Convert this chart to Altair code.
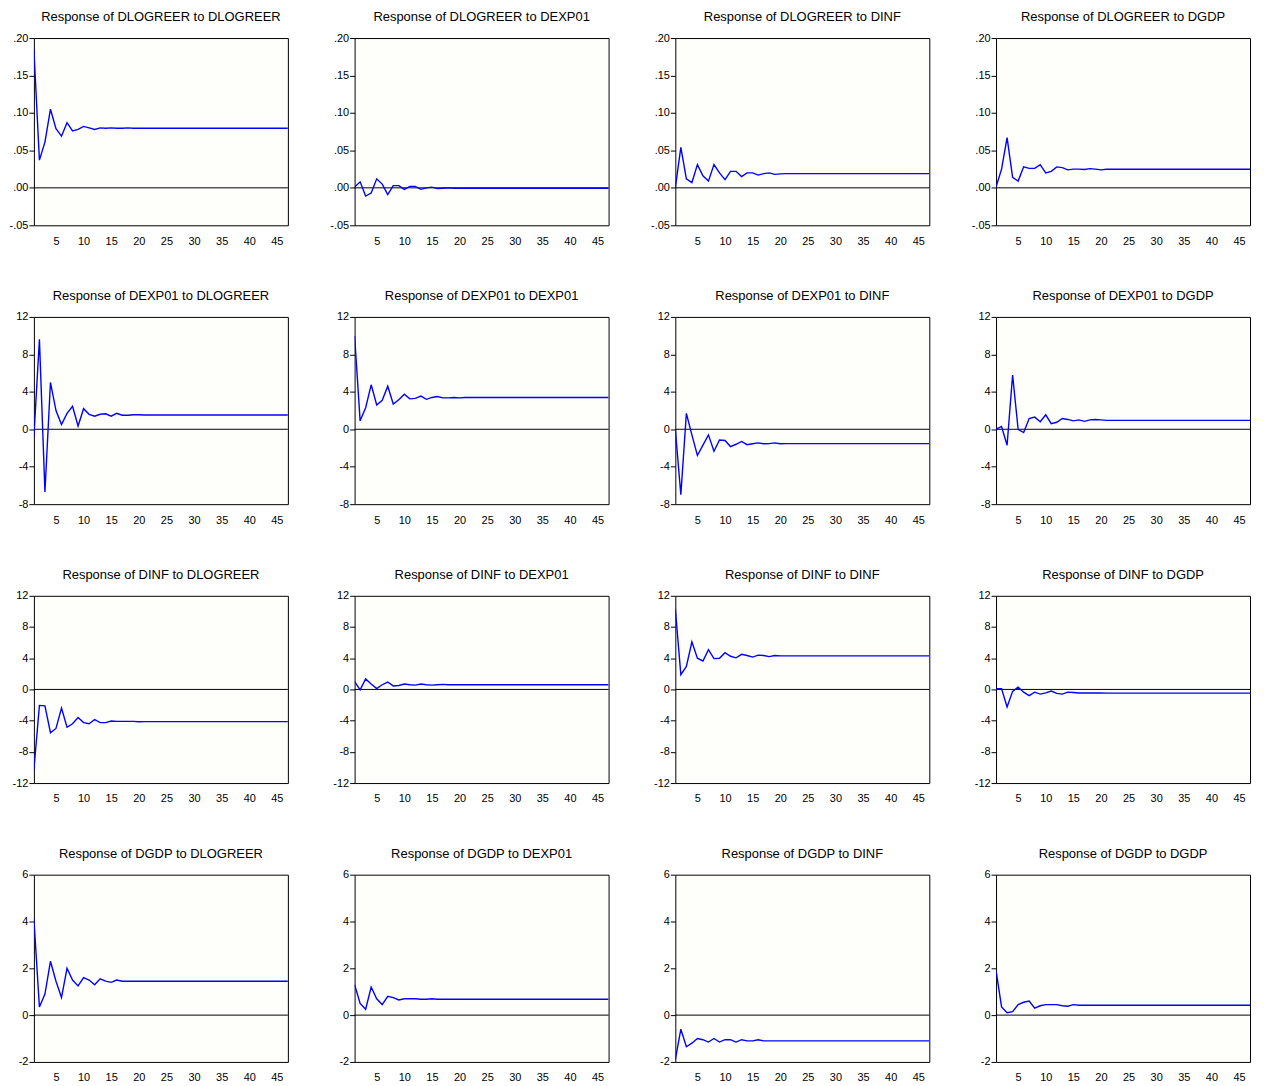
import altair as alt
import pandas as pd

periods = list(range(1, 48))
variables = ["DLOGREER", "DEXP01", "DINF", "DGDP"]

# Responses of DLOGREER
dlogreer_to_dlogreer = [0.1845, 0.037, 0.061, 0.105, 0.079, 0.069, 0.087, 0.076, 0.078, 0.082, 0.080, 0.078,
                        0.080, 0.0795, 0.080, 0.0795, 0.0795, 0.080, 0.0795, 0.0795, 0.0795, 0.0795, 0.0795, 0.0795,
                        0.0795, 0.0795, 0.0795, 0.0795, 0.0795, 0.0795, 0.0795, 0.0795, 0.0795, 0.0795, 0.0795, 0.0795,
                        0.0795, 0.0795, 0.0795, 0.0795, 0.0795, 0.0795, 0.0795, 0.0795, 0.0795, 0.0795, 0.0795]
dlogreer_to_dexp01 = [0.001, 0.008, -0.011, -0.007, 0.012, 0.005, -0.009, 0.003, 0.003, -0.002, 0.002, 0.002,
                      -0.002, 0.000, 0.001, -0.001, -0.0005, 0.000, -0.0005, -0.0005, -0.0005, -0.0005, -0.0005, -0.0005,
                      -0.0005, -0.0005, -0.0005, -0.0005, -0.0005, -0.0005, -0.0005, -0.0005, -0.0005, -0.0005, -0.0005, -0.0005,
                      -0.0005, -0.0005, -0.0005, -0.0005, -0.0005, -0.0005, -0.0005, -0.0005, -0.0005, -0.0005, -0.0005]
dlogreer_to_dinf = [0.000, 0.054, 0.012, 0.007, 0.031, 0.016, 0.009, 0.031, 0.020, 0.011, 0.022, 0.022,
                    0.015, 0.020, 0.020, 0.017, 0.019, 0.020, 0.018, 0.0186, 0.019, 0.019, 0.019, 0.019,
                    0.019, 0.019, 0.019, 0.019, 0.019, 0.019, 0.019, 0.019, 0.019, 0.019, 0.019, 0.019,
                    0.019, 0.019, 0.019, 0.019, 0.019, 0.019, 0.019, 0.019, 0.019, 0.019, 0.019]
dlogreer_to_dgdp = [0.001, 0.025, 0.067, 0.014, 0.009, 0.028, 0.026, 0.026, 0.031, 0.020, 0.022, 0.028,
                    0.027, 0.024, 0.025, 0.025, 0.0245, 0.0257, 0.025, 0.024, 0.0248, 0.0248, 0.0248, 0.0248,
                    0.0248, 0.0248, 0.0248, 0.0248, 0.0248, 0.0248, 0.0248, 0.0248, 0.0248, 0.0248, 0.0248, 0.0248,
                    0.0248, 0.0248, 0.0248, 0.0248, 0.0248, 0.0248, 0.0248, 0.0248, 0.0248, 0.0248, 0.0248]

# Responses of DEXP01
dexp01_to_dlogreer = [-0.8, 9.6, -6.7, 5.0, 2.0, 0.5, 1.7, 2.45, 0.35, 2.2, 1.6, 1.4,
                      1.6, 1.65, 1.4, 1.7, 1.5, 1.5, 1.55, 1.55, 1.53, 1.53, 1.53, 1.53,
                      1.53, 1.53, 1.53, 1.53, 1.53, 1.53, 1.53, 1.53, 1.53, 1.53, 1.53, 1.53,
                      1.53, 1.53, 1.53, 1.53, 1.53, 1.53, 1.53, 1.53, 1.53, 1.53, 1.53]
dexp01_to_dexp01 = [9.95, 0.9, 2.3, 4.75, 2.6, 3.1, 4.6, 2.7, 3.15, 3.75, 3.25, 3.3,
                    3.55, 3.2, 3.4, 3.5, 3.35, 3.35, 3.4, 3.35, 3.4, 3.4, 3.4, 3.4,
                    3.4, 3.4, 3.4, 3.4, 3.4, 3.4, 3.4, 3.4, 3.4, 3.4, 3.4, 3.4,
                    3.4, 3.4, 3.4, 3.4, 3.4, 3.4, 3.4, 3.4, 3.4, 3.4, 3.4]
dexp01_to_dinf = [0.0, -7.0, 1.7, -0.6, -2.8, -1.7, -0.6, -2.35, -1.15, -1.2, -1.85, -1.6,
                  -1.3, -1.65, -1.55, -1.45, -1.55, -1.53, -1.45, -1.55, -1.53, -1.53, -1.53, -1.53,
                  -1.53, -1.53, -1.53, -1.53, -1.53, -1.53, -1.53, -1.53, -1.53, -1.53, -1.53, -1.53,
                  -1.53, -1.53, -1.53, -1.53, -1.53, -1.53, -1.53, -1.53, -1.53, -1.53, -1.53]
dexp01_to_dgdp = [0.0, 0.3, -1.7, 5.8, 0.0, -0.35, 1.15, 1.3, 0.8, 1.55, 0.6, 0.75,
                  1.15, 1.05, 0.9, 1.0, 0.85, 1.0, 1.05, 1.0, 0.95, 0.95, 0.95, 0.95,
                  0.95, 0.95, 0.95, 0.95, 0.95, 0.95, 0.95, 0.95, 0.95, 0.95, 0.95, 0.95,
                  0.95, 0.95, 0.95, 0.95, 0.95, 0.95, 0.95, 0.95, 0.95, 0.95, 0.95]

# Responses of DINF
dinf_to_dlogreer = [-10.3, -2.05, -2.1, -5.55, -5.0, -2.4, -4.85, -4.4, -3.6, -4.25, -4.4, -3.85,
                    -4.25, -4.25, -4.05, -4.1, -4.1, -4.1, -4.1, -4.15, -4.13, -4.13, -4.13, -4.13,
                    -4.13, -4.13, -4.13, -4.13, -4.13, -4.13, -4.13, -4.13, -4.13, -4.13, -4.13, -4.13,
                    -4.13, -4.13, -4.13, -4.13, -4.13, -4.13, -4.13, -4.13, -4.13, -4.13, -4.13]
dinf_to_dexp01 = [1.0, -0.05, 1.35, 0.7, 0.1, 0.6, 0.95, 0.45, 0.5, 0.7, 0.6, 0.55,
                  0.7, 0.6, 0.55, 0.6, 0.65, 0.6, 0.6, 0.6, 0.6, 0.6, 0.6, 0.6,
                  0.6, 0.6, 0.6, 0.6, 0.6, 0.6, 0.6, 0.6, 0.6, 0.6, 0.6, 0.6,
                  0.6, 0.6, 0.6, 0.6, 0.6, 0.6, 0.6, 0.6, 0.6, 0.6, 0.6]
dinf_to_dinf = [10.3, 1.9, 2.95, 6.1, 4.0, 3.65, 5.1, 3.95, 4.0, 4.7, 4.25, 4.05,
                4.5, 4.35, 4.15, 4.4, 4.35, 4.2, 4.35, 4.3, 4.3, 4.3, 4.3, 4.3,
                4.3, 4.3, 4.3, 4.3, 4.3, 4.3, 4.3, 4.3, 4.3, 4.3, 4.3, 4.3,
                4.3, 4.3, 4.3, 4.3, 4.3, 4.3, 4.3, 4.3, 4.3, 4.3, 4.3]
dinf_to_dgdp = [0.1, 0.1, -2.25, -0.25, 0.3, -0.35, -0.8, -0.35, -0.6, -0.45, -0.2, -0.5,
                -0.6, -0.35, -0.4, -0.45, -0.45, -0.45, -0.45, -0.45, -0.47, -0.47, -0.47, -0.47,
                -0.47, -0.47, -0.47, -0.47, -0.47, -0.47, -0.47, -0.47, -0.47, -0.47, -0.47, -0.47,
                -0.47, -0.47, -0.47, -0.47, -0.47, -0.47, -0.47, -0.47, -0.47, -0.47, -0.47]

# Responses of DGDP
dgdp_to_dlogreer = [4.1, 0.35, 0.9, 2.3, 1.45, 0.75, 2.0, 1.5, 1.25, 1.6, 1.5, 1.3,
                    1.55, 1.45, 1.4, 1.5, 1.45, 1.45, 1.45, 1.45, 1.45, 1.45, 1.45, 1.45,
                    1.45, 1.45, 1.45, 1.45, 1.45, 1.45, 1.45, 1.45, 1.45, 1.45, 1.45, 1.45,
                    1.45, 1.45, 1.45, 1.45, 1.45, 1.45, 1.45, 1.45, 1.45, 1.45, 1.45]
dgdp_to_dexp01 = [1.3, 0.5, 0.25, 1.2, 0.7, 0.45, 0.8, 0.75, 0.65, 0.7, 0.7, 0.7,
                  0.68, 0.68, 0.7, 0.68, 0.68, 0.68, 0.68, 0.68, 0.68, 0.68, 0.68, 0.68,
                  0.68, 0.68, 0.68, 0.68, 0.68, 0.68, 0.68, 0.68, 0.68, 0.68, 0.68, 0.68,
                  0.68, 0.68, 0.68, 0.68, 0.68, 0.68, 0.68, 0.68, 0.68, 0.68, 0.68]
dgdp_to_dinf = [-1.9, -0.6, -1.35, -1.2, -1.0, -1.05, -1.15, -1.0, -1.15, -1.05, -1.05, -1.15,
                -1.05, -1.1, -1.1, -1.05, -1.1, -1.1, -1.1, -1.1, -1.1, -1.1, -1.1, -1.1,
                -1.1, -1.1, -1.1, -1.1, -1.1, -1.1, -1.1, -1.1, -1.1, -1.1, -1.1, -1.1,
                -1.1, -1.1, -1.1, -1.1, -1.1, -1.1, -1.1, -1.1, -1.1, -1.1, -1.1]
dgdp_to_dgdp = [1.9, 0.35, 0.1, 0.15, 0.45, 0.55, 0.6, 0.3, 0.4, 0.45, 0.45, 0.45,
                0.4, 0.38, 0.45, 0.42, 0.42, 0.42, 0.42, 0.42, 0.42, 0.42, 0.42, 0.42,
                0.42, 0.42, 0.42, 0.42, 0.42, 0.42, 0.42, 0.42, 0.42, 0.42, 0.42, 0.42,
                0.42, 0.42, 0.42, 0.42, 0.42, 0.42, 0.42, 0.42, 0.42, 0.42, 0.42]

responses = {
    "DLOGREER": [dlogreer_to_dlogreer, dlogreer_to_dexp01, dlogreer_to_dinf, dlogreer_to_dgdp],
    "DEXP01": [dexp01_to_dlogreer, dexp01_to_dexp01, dexp01_to_dinf, dexp01_to_dgdp],
    "DINF": [dinf_to_dlogreer, dinf_to_dexp01, dinf_to_dinf, dinf_to_dgdp],
    "DGDP": [dgdp_to_dlogreer, dgdp_to_dexp01, dgdp_to_dinf, dgdp_to_dgdp],
}

y_domains = {"DLOGREER": [-0.05, 0.20], "DEXP01": [-8, 12], "DINF": [-12, 12], "DGDP": [-2, 6]}
y_ticks = {
    "DLOGREER": [-0.05, 0.0, 0.05, 0.10, 0.15, 0.20],
    "DEXP01": [-8, -4, 0, 4, 8, 12],
    "DINF": [-12, -8, -4, 0, 4, 8, 12],
    "DGDP": [-2, 0, 2, 4, 6],
}
x_ticks = [5, 10, 15, 20, 25, 30, 35, 40, 45]

DEC_EXPR = "(datum.value < 0 ? '-' : '') + replace(format(abs(datum.value), '.2f'), '0.', '.')"
INT_EXPR = "(datum.value < 0 ? '-' : '') + format(abs(datum.value), 'd')"

LABEL_FONT = "Liberation Sans"
TITLE_FONT = "Liberation Sans"


def panel(resp, imp, vals):
    df = pd.DataFrame({"period": periods, "value": vals})
    x = alt.X(
        "period:Q",
        scale=alt.Scale(domain=[1, 47], nice=False, zero=False),
        axis=alt.Axis(values=x_ticks, title=None, ticks=False, tickSize=0, labelPadding=10,
                      grid=False, domain=False, labelFontSize=11, labelColor="black",
                      labelFont=LABEL_FONT, format="d", labelOverlap=False, labelFlush=False),
    )
    y = alt.Y(
        "value:Q",
        scale=alt.Scale(domain=y_domains[resp], nice=False, zero=False),
        axis=alt.Axis(values=y_ticks[resp], title=None, grid=False, tickSize=5, tickColor="black",
                      tickWidth=1, labelPadding=1, domain=False, labelFontSize=11, labelColor="black",
                      labelFont=LABEL_FONT, labelOverlap=False, labelFlush=False, labelBound=False,
                      labelExpr=DEC_EXPR if resp == "DLOGREER" else INT_EXPR),
    )
    zero = alt.Chart(pd.DataFrame({"value": [0]})).mark_rule(color="black", strokeWidth=1).encode(y=y)
    line = alt.Chart(df).mark_line(color="#0000ff", strokeWidth=1.4, clip=True).encode(x=x, y=y)
    return alt.layer(zero, line).properties(
        width=255, height=188,
        title=alt.Title(f"Response of {resp} to {imp}", font=TITLE_FONT, fontSize=13,
                        fontWeight="normal", color="black", offset=8, anchor="middle",
                        frame="group"),
    )


panels = []
for resp in variables:
    for j, imp in enumerate(variables):
        panels.append(panel(resp, imp, responses[resp][j]))

chart = alt.concat(*panels, columns=4, spacing={"row": 92, "column": 67}, bounds="flush").properties(
    padding={"left": 0, "top": 0, "right": 5, "bottom": 0},
    background="white",
).configure_view(stroke="black", strokeWidth=1, fill="#fefefb")

chart.save("out.html", embed_options={"renderer": "svg", "actions": False})
